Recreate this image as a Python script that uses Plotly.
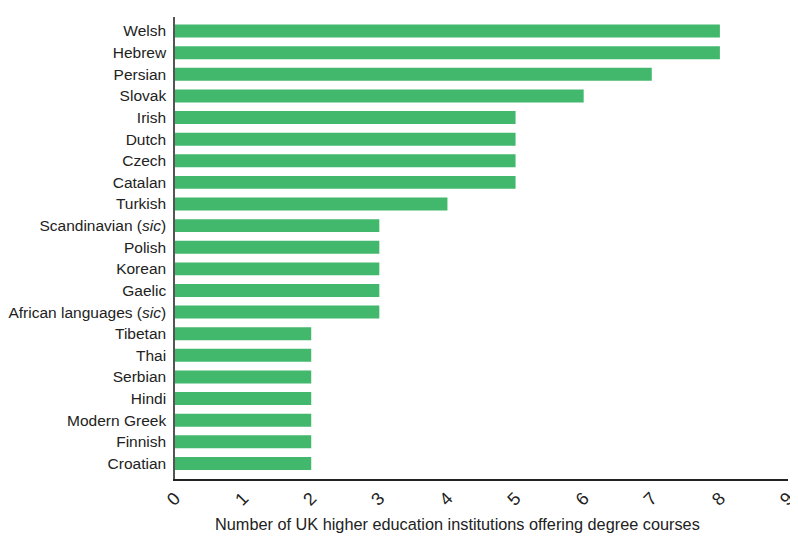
import plotly.graph_objects as go

languages = ["Welsh", "Hebrew", "Persian", "Slovak", "Irish", "Dutch", "Czech", "Catalan",
             "Turkish", "Scandinavian (<i>sic</i>)", "Polish", "Korean", "Gaelic",
             "African languages (<i>sic</i>)", "Tibetan", "Thai", "Serbian", "Hindi",
             "Modern Greek", "Finnish", "Croatian"]
counts = [8, 8, 7, 6, 5, 5, 5, 5, 4, 3, 3, 3, 3, 3, 2, 2, 2, 2, 2, 2, 2]
x_ticks = [0, 1, 2, 3, 4, 5, 6, 7, 8, 9]
x_title = "Number of UK higher education institutions offering degree courses"

fig = go.Figure(go.Bar(
    x=counts, y=languages, orientation="h",
    marker=dict(color="#41b86b", line=dict(width=0)),
    width=0.6,
))

fig.update_layout(
    width=790, height=530,
    margin=dict(l=167, r=10, t=9, b=59),
    paper_bgcolor="white", plot_bgcolor="white",
    font=dict(family="Liberation Sans, Arial, sans-serif", size=15.5, color="#222"),
    showlegend=False,
    annotations=[dict(
        text=x_title, xref="paper", yref="paper", x=0.461, y=-0.097,
        xanchor="center", yanchor="middle", showarrow=False,
        font=dict(size=16.3, color="#222"),
    )],
)
fig.update_xaxes(
    range=[0, 9], tickvals=x_ticks, ticktext=[str(v) for v in x_ticks],
    tickangle=-45, showgrid=False, zeroline=False, automargin=False,
    ticklabeloverflow="allow",
    showline=True, linecolor="#222", linewidth=1.5,
    ticks="", ticklen=0, tickfont=dict(size=18),
)
fig.update_yaxes(
    categoryorder="array", categoryarray=languages,
    autorange=False, range=[20.72, -0.65], automargin=False,
    showgrid=False, zeroline=False,
    showline=True, linecolor="#555", linewidth=1.5,
    ticks="", ticklabelstandoff=4,
)

fig.write_html("out.html")
